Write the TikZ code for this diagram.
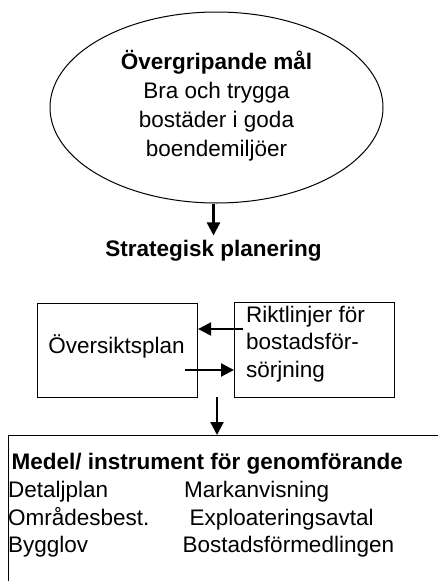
\documentclass[tikz,border=0pt]{standalone}
\usepackage{fontspec}
\setmainfont{Liberation Sans}
\usetikzlibrary{shapes.geometric,arrows.meta}
\tikzset{
  txt/.style={inner sep=0pt, font=\fontsize{22.5}{28}\selectfont},
  btxt/.style={inner sep=0pt, font=\fontsize{22.5}{28}\selectfont\bfseries},
  boxstyle/.style={draw, line width=1.1pt, rectangle, inner sep=0pt},
  arr/.style={line width=2.2pt, -{Triangle[length=13pt,width=13pt]}}
}
\begin{document}
\begin{tikzpicture}[x=1pt,y=-1pt]
\useasboundingbox (0,0) rectangle (438,581);
\clip (0,0) rectangle (438,581);
\fill[white] (0,0) rectangle (438,581);
% goal ellipse
\node[draw, ellipse, line width=1pt, minimum width=333pt, minimum height=191pt, inner sep=0pt] (ell) at (216.5,107.5) {};
\node[align=center, inner sep=0pt, font=\fontsize{22.5}{29}\selectfont] (goal) at (216.5,105.7)
  {\textbf{Övergripande mål}\\Bra och trygga\\bostäder i goda\\boendemiljöer};
% strategic planning
\node[btxt, anchor=base] (strat) at (213.5,256) {Strategisk planering};
\draw[arr] (ell.south -| strat.north) -- ([yshift=4pt]strat.north);
% boxes
\node[boxstyle, anchor=north west, minimum width=160pt, minimum height=94pt] (ov) at (37,303) {};
\node[txt, anchor=base] (ovtext) at (116.5,353) {Översiktsplan};
\node[boxstyle, anchor=north west, minimum width=160pt, minimum height=95pt] (rl) at (234,302) {};
\node[txt, anchor=north west, align=left, font=\fontsize{22.5}{27.5}\selectfont] (rltext) at (246,305.6)
  {Riktlinjer för\\bostadsför-\\sörjning};
\coordinate (a1) at (243,329);
\coordinate (a2) at (185,370);
\draw[arr] (a1) -- (a1 -| ov.east);
\draw[arr] (a2) -- (a2 -| rl.west);
% bottom box
\node[boxstyle, anchor=north west, minimum width=470pt, minimum height=200pt] (bot) at (8,435) {};
\coordinate (split) at (217,397);
\draw[arr] (split) -- (split |- bot.north);
\node[btxt, anchor=base west] (head) at (11.5,469) {Medel/ instrument för genomförande};
\node[txt, anchor=base west] (c11) at (8,497) {Detaljplan};
\node[txt, anchor=base west] (c21) at (8,525) {Områdesbest.};
\node[txt, anchor=base west] (c31) at (8,552) {Bygglov};
\node[txt, anchor=base west] (c12) at (184,497) {Markanvisning};
\node[txt, anchor=base west] (c22) at (189.5,525) {Exploateringsavtal};
\node[txt, anchor=base west] (c32) at (182.5,552) {Bostadsförmedlingen};
\end{tikzpicture}
\end{document}
